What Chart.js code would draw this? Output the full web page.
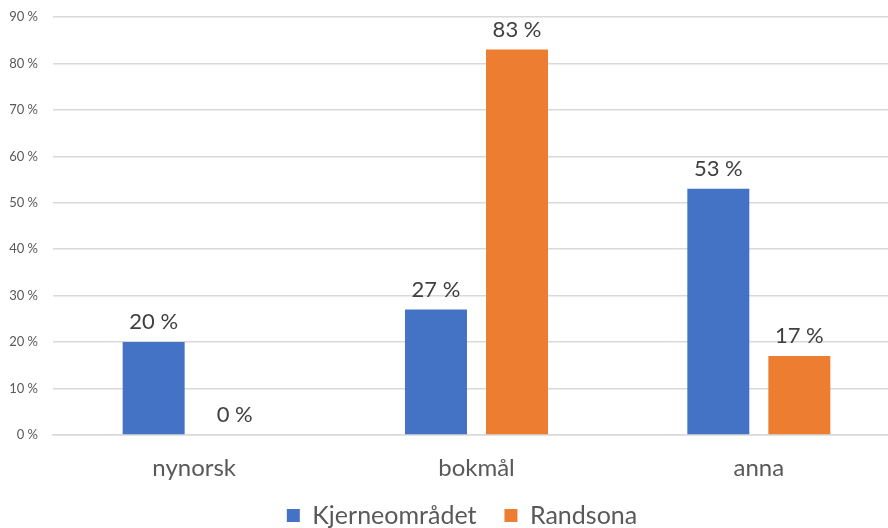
<!DOCTYPE html>
<html>
<head>
<meta charset="utf-8">
<script src="https://cdn.jsdelivr.net/npm/chart.js@4.4.1/dist/chart.umd.min.js"></script>
<style>
  html, body { margin: 0; padding: 0; background: #fff; overflow: hidden; }
  #wrap { position: relative; width: 924px; height: 528px; }
</style>
</head>
<body>
<div id="wrap"><canvas id="c"></canvas></div>
<script>
const categories = ['nynorsk', 'bokmål', 'anna'];
const kjerneomradet = [20, 27, 53];
const randsona = [0, 83, 17];
const seriesNames = ['Kjerneområdet', 'Randsona'];
const yTicks = [0, 10, 20, 30, 40, 50, 60, 70, 80, 90];

const FONT = 'Lato, "Open Sans", sans-serif';

// Value labels above each bar
const valueLabels = {
  id: 'valueLabels',
  afterDatasetsDraw(chart) {
    const ctx = chart.ctx;
    ctx.save();
    ctx.font = '22px ' + FONT;
    ctx.fillStyle = '#404040';
    ctx.textAlign = 'center';
    ctx.textBaseline = 'alphabetic';
    chart.data.datasets.forEach((ds, i) => {
      chart.getDatasetMeta(i).data.forEach((bar, j) => {
        ctx.fillText(ds.data[j] + ' %', bar.x, bar.y - 13);
      });
    });
    ctx.restore();
  }
};

// Nudge the legend row a little to the right
const legendShift = {
  id: 'legendShift',
  afterLayout(chart) {
    if (chart.legend) { chart.legend.left += 24; }
  }
};

new Chart(document.getElementById('c'), {
  type: 'bar',
  data: {
    labels: categories,
    datasets: [
      { label: seriesNames[0], data: kjerneomradet, backgroundColor: '#4472C4' },
      { label: seriesNames[1], data: randsona, backgroundColor: '#ED7D31' }
    ]
  },
  options: {
    responsive: true,
    maintainAspectRatio: false,
    animation: false,
    categoryPercentage: 0.574,
    barPercentage: 0.765,
    layout: { padding: { top: 17, left: 0, right: 24, bottom: 0 } },
    plugins: {
      tooltip: { enabled: false },
      legend: {
        position: 'bottom',
        maxHeight: 53,
        labels: {
          font: { family: FONT, size: 25 },
          color: '#595959',
          boxWidth: 13,
          boxHeight: 13,
          padding: 28
        }
      }
    },
    scales: {
      x: {
        afterFit(scale) {
          scale.height = 40;
          // let the category names run past the axis box
          scale._computeLabelArea = () => undefined;
        },
        grid: { display: false, drawTicks: false },
        border: { color: '#d9d9d9', width: 1.5 },
        ticks: { font: { family: FONT, size: 24 }, color: '#595959', padding: 19 }
      },
      y: {
        min: 0,
        max: 90,
        afterFit(scale) { scale.width = 53; },
        afterBuildTicks(scale) { scale.ticks = yTicks.map(v => ({ value: v })); },
        grid: { color: '#d9d9d9', lineWidth: 1.5, drawTicks: true, tickLength: 14, tickColor: 'rgba(0,0,0,0)' },
        border: { display: false },
        ticks: {
          font: { family: FONT, size: 13 },
          color: '#595959',
          padding: 1,
          callback: v => v + ' %'
        }
      }
    }
  },
  plugins: [valueLabels, legendShift]
});
</script>
</body>
</html>
